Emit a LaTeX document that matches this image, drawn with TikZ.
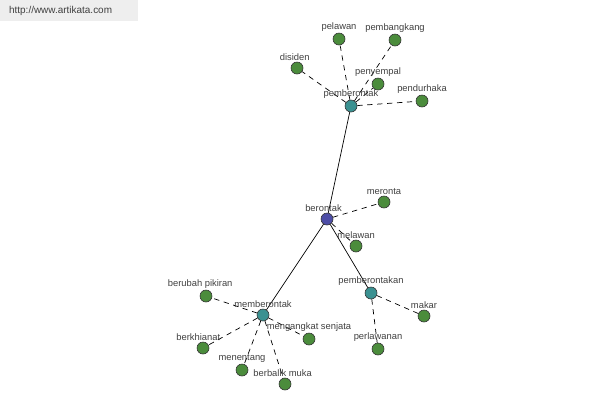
\documentclass[tikz,border=0pt]{standalone}
\usepackage{fontspec}
\setmainfont{Liberation Sans}
\usetikzlibrary{backgrounds}
\definecolor{KataHub}{HTML}{4D4DA6}
\definecolor{KataMid}{HTML}{3B9191}
\definecolor{KataLeaf}{HTML}{4B8C3C}
\definecolor{KataEdge}{HTML}{333333}
\definecolor{KataText}{HTML}{404040}
\definecolor{KataBar}{HTML}{EEEEEE}
\tikzset{
  word/.style={circle, draw=KataEdge, line width=0.5pt, minimum size=3.6mm, inner sep=0pt},
  root/.style={word, fill=KataHub},
  hub/.style={word, fill=KataMid},
  leaf/.style={word, fill=KataLeaf},
  lbl/.style={font=\fontsize{8}{9}\selectfont, text=KataText, inner sep=0.5pt, label distance=0.5pt},
  strong/.style={draw=black, line width=0.6pt},
  weak/.style={draw=black, line width=0.6pt, dash pattern=on 4.5pt off 4pt},
}

\begin{document}
\begin{tikzpicture}[x=0.3mm,y=-0.3mm]
        \useasboundingbox (0,0) rectangle (600,400);
        \fill[KataBar] (0,0) rectangle (138,21);
        \node[font=\fontsize{8.5}{9}\selectfont, text=KataText, anchor=west] (url) at (5,11) {http://www.artikata.com};
        % kata dasar
        \node[root, label={[lbl,xshift=-3pt]above:berontak}] (berontak) at (327,219) {};
        % turunan
        \node[hub, label={[lbl]above:pemberontak}] (pemberontak) at (351,106) {};
        \node[hub, label={[lbl]above:memberontak}] (memberontak) at (263,315) {};
        \node[hub, label={[lbl]above:pemberontakan}] (pemberontakan) at (371,293) {};
        % sinonim
        \node[leaf, label={[lbl]above:meronta}] (meronta) at (384,202) {};
        \node[leaf, label={[lbl]above:melawan}] (melawan) at (356,246) {};
        \node[leaf, label={[lbl]above:pelawan}] (pelawan) at (339,39) {};
        \node[leaf, label={[lbl]above:pembangkang}] (pembangkang) at (395,40) {};
        \node[leaf, label={[lbl,xshift=-2pt]above:disiden}] (disiden) at (297,68) {};
        \node[leaf, label={[lbl]above:penyempal}] (penyempal) at (378,84) {};
        \node[leaf, label={[lbl]above:pendurhaka}] (pendurhaka) at (422,101) {};
        \node[leaf, label={[lbl]above:makar}] (makar) at (424,316) {};
        \node[leaf, label={[lbl]above:perlawanan}] (perlawanan) at (378,349) {};
        \node[leaf, label={[lbl,xshift=-5pt]above:berubah pikiran}] (pikiran) at (206,296) {};
        \node[leaf, label={[lbl,xshift=-4pt]above:berkhianat}] (berkhianat) at (203,348) {};
        \node[leaf, label={[lbl]above:mengangkat senjata}] (senjata) at (309,339) {};
        \node[leaf, label={[lbl]above:menentang}] (menentang) at (242,370) {};
        \node[leaf, label={[lbl,xshift=-2pt]above:berbalik muka}] (muka) at (285,384) {};
        \begin{scope}[on background layer]
          \draw[strong] (berontak) -- (pemberontak);
          \draw[strong] (berontak) -- (memberontak);
          \draw[strong] (berontak) -- (pemberontakan);
          \foreach \leaf in {meronta,melawan}
            \draw[weak] (berontak) -- (\leaf);
          \foreach \leaf in {pelawan,pembangkang,disiden,penyempal,pendurhaka}
            \draw[weak] (pemberontak) -- (\leaf);
          \foreach \leaf in {makar,perlawanan}
            \draw[weak] (pemberontakan) -- (\leaf);
          \foreach \leaf in {pikiran,berkhianat,senjata,menentang,muka}
            \draw[weak] (memberontak) -- (\leaf);
        \end{scope}
      \end{tikzpicture}
\end{document}
